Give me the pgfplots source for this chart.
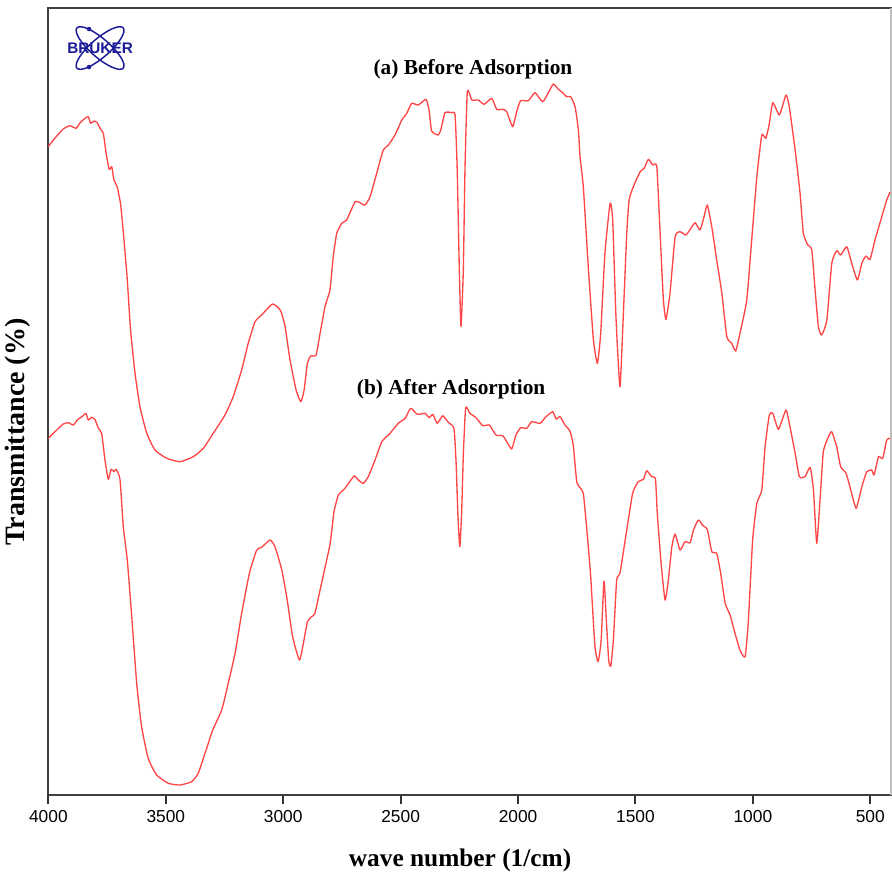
\documentclass[border=0pt]{standalone}
\usepackage{pgfplots}
\pgfplotsset{compat=1.18}
\usepackage{fontspec}
\setmainfont{Liberation Serif}
\setsansfont{Liberation Sans}

\definecolor{spec}{RGB}{255,70,70}
\definecolor{brukerblue}{RGB}{28,28,150}

% FTIR spectra: wavenumber (1/cm) vs. offset transmittance (arbitrary units)
\pgfplotstableread{
wn y
4000 648.5
3979 655
3937 666
3908 669.3
3882 666.7
3865 672.3
3844 676.7
3830 678.3
3820 671.7
3806 674
3792 672.3
3780 666.7
3766 661.7
3755 643.3
3741 625.7
3730 628.3
3721 615
3707 608.3
3692 590
3678 555
3664 515
3650 465
3631 421.7
3610 388.3
3581 361.7
3546 345
3496 336.7
3440 333.3
3383 338.3
3340 346.7
3298 361.7
3248 380
3213 398.3
3177 425
3149 451.7
3120 473.3
3092 480
3045 491
3011 484.3
2992 468.3
2971 435
2945 405
2925 393.3
2911 405
2897 431.7
2883 439
2860 440
2843 461.7
2822 488.3
2801 505
2787 538.3
2772 561.7
2751 571.7
2730 575
2694 593.3
2673 592.3
2652 590
2630 598.3
2602 621.7
2574 645
2552 650
2524 660
2495 675
2474 681.7
2453 691.7
2425 690
2392 695.7
2379 685
2368 664
2340 660
2329 665
2311 682.3
2282 682.3
2268 680
2259 625
2250 525
2243 468.3
2233 525
2226 625
2216 703.3
2197 695
2169 695
2145 690.7
2112 696.7
2091 685.7
2063 685.7
2048 683.3
2023 668.3
2006 683.3
1989 694.3
1956 694.3
1928 702.3
1895 693.3
1871 702.3
1850 711
1828 705.7
1807 701.7
1793 698.3
1776 698.3
1757 688.3
1743 665
1736 638.3
1722 608.3
1701 528.3
1679 455
1662 431.7
1648 461.7
1630 541.7
1608 591.7
1597 575
1583 478.3
1566 408.3
1552 478.3
1537 561.7
1527 595
1509 608.3
1480 623.3
1463 626.7
1445 635.7
1426 630
1409 628.3
1395 561.7
1381 495
1370 475.7
1353 501.7
1331 558.3
1310 563.3
1285 560
1267 565.7
1246 572.3
1225 565
1208 578.3
1194 590
1175 568.3
1154 535
1132 501.7
1111 458.3
1090 451.7
1073 444
1055 461.7
1026 495
1005 555
983 618.3
962 660
945 656.7
931 670
915 692.3
887 680
859 700
845 688.3
820 645
799 601.7
785 561.7
766 550
749 545
735 505
721 468.3
707 460
685 475
664 531.7
643 544.3
626 540
600 548.3
579 531.7
555 515
536 531.7
519 539
501 535.7
480 555
451 578.3
430 595
416 602.7
}\before

\pgfplotstableread{
wn y
4000 356.7
3972 363.3
3937 371
3915 372.3
3894 370
3877 375
3854 379
3840 381.7
3830 375
3816 377.7
3802 375.7
3787 366.7
3773 361.7
3759 335
3745 315.7
3733 325.7
3721 323.3
3712 325.7
3695 315.7
3681 268.3
3664 235
3645 178.3
3624 111.7
3603 68.3
3575 36.7
3539 20
3489 11.7
3440 10
3390 13.3
3362 21.7
3333 41.7
3300 65
3262 85
3234 111.7
3205 141.7
3177 181.7
3144 221.7
3113 245
3092 247.7
3056 255
3035 248.3
3006 225
2983 195
2960 158.3
2931 135
2914 151.7
2897 173.3
2879 178.3
2865 181.7
2843 205
2818 231.7
2799 253
2784 283
2765 300
2737 306.7
2698 319
2680 315
2659 311.7
2638 318.3
2609 335
2580 353.3
2545 361.7
2510 371.7
2481 376.7
2457 386.7
2429 380.7
2396 381.7
2378 377.3
2363 380.7
2344 371.7
2321 379.3
2297 372.7
2273 366.7
2264 333.3
2256 280
2248 248.3
2240 283.3
2233 340
2223 387.3
2205 381.7
2179 377.3
2150 369.3
2122 370
2094 360
2065 359.3
2048 353.3
2027 346
2009 360
1989 367.3
1963 366.7
1942 373.3
1906 371.7
1881 378.3
1852 383.3
1838 376
1821 378.3
1800 370
1779 364
1765 350
1750 313.3
1734 306.7
1722 301.7
1710 273
1691 220
1673 150
1659 133.3
1646 155
1634 214
1624 175
1614 135
1605 129
1594 155
1580 215
1566 221.7
1537 265
1512 301.7
1488 313.3
1466 315.7
1452 324.3
1431 318.3
1415 316.7
1407 281.7
1392 235
1374 195
1360 215
1345 248.3
1331 261
1310 245
1289 253.3
1267 252.3
1253 265
1232 275
1211 269
1194 265.7
1175 243.3
1154 241.7
1137 221.7
1118 191.7
1097 180
1076 161.7
1055 145
1033 138.3
1019 175
1001 255
983 291.7
962 305
948 348.3
930 380
915 381.7
891 365.7
859 385
842 368.3
820 341.7
802 318.3
778 318.3
756 327.7
742 305
728 251.7
714 295
700 343.3
678 358.3
664 363.3
643 348.3
626 328.3
603 321.7
583 305
560 286.7
536 308.3
515 323.3
494 325
484 320
465 338.3
447 336.7
430 355
416 356.7
}\after

\begin{document}
\begin{tikzpicture}
\useasboundingbox (-36.3pt,-60.75pt) rectangle (632.7pt,596.25pt);
\begin{axis}[
  scale only axis,
  width=632pt, height=590.6pt,
  x dir=reverse,
  xmin=411.5, xmax=4000,
  ymin=0, ymax=787.5,
  xtick={500,1000,...,4000},
  ytick=\empty,
  xtick pos=left,
  xtick align=outside,
  major tick length=7pt,
  xtick style={draw=black!80, line width=1.5pt},
  axis line style={black!75, line width=1.5pt},
  xticklabel style={font=\sffamily\fontsize{13}{13}\selectfont, yshift=-1pt},
  /pgf/number format/1000 sep={},
  /pgf/number format/assume math mode=true,
  clip=false,
]
% lighter right edge of the frame
\draw[white, line width=2pt] (rel axis cs:1,0.998) -- (rel axis cs:1,0.002);
\draw[black!25, line width=1pt] (rel axis cs:1,1) -- (rel axis cs:1,0);

\addplot[spec, line width=1pt, line join=round, smooth, tension=0.3] table[x=wn, y=y] {\before};
\addplot[spec, line width=1pt, line join=round, smooth, tension=0.3] table[x=wn, y=y] {\after};

\node[font=\bfseries\fontsize{16}{16}\selectfont] at (axis cs:2192,726) {(a) Before Adsorption};
\node[font=\bfseries\fontsize{16}{16}\selectfont] at (axis cs:2285,406) {(b) After Adsorption};

\node[font=\bfseries\fontsize{19}{19}\selectfont] at (axis cs:2247,-65) {wave number (1/cm)};
\node[font=\bfseries\fontsize{21}{21}\selectfont, rotate=90] at (axis cs:4129,363) {Transmittance (\%)};

\coordinate (logo) at (axis cs:3780,747);
% anchor points of the major ticks on the wavenumber axis
\coordinate (t500) at (axis cs:500,0);
\coordinate (t1000) at (axis cs:1000,0);
\coordinate (t1500) at (axis cs:1500,0);
\coordinate (t2000) at (axis cs:2000,0);
\coordinate (t2500) at (axis cs:2500,0);
\coordinate (t3000) at (axis cs:3000,0);
\coordinate (t3500) at (axis cs:3500,0);
\coordinate (t4000) at (axis cs:4000,0);
\end{axis}

% outward tick marks
\foreach \t in {500,1000,1500,2000,2500,3000,3500,4000}{
  \draw[black!80, line width=1.5pt] (t\t) -- ++(0pt,-7pt);
}

% instrument logo
\begin{scope}[shift={(logo)}]
  \draw[brukerblue, line width=1.1pt, rotate=41] (0,0) ellipse (23pt and 7pt);
  \draw[brukerblue, line width=1.1pt, rotate=-41] (0,0) ellipse (23pt and 7pt);
  \fill[brukerblue] (-8.25pt,14.25pt) circle (1.7pt);
  \fill[brukerblue] (-8.25pt,-14.25pt) circle (1.7pt);
  \node[inner sep=0pt, text=brukerblue, font=\sffamily\bfseries\fontsize{11.5}{11.5}\selectfont] at (0,0) {BRUKER};
\end{scope}
\end{tikzpicture}
\end{document}
